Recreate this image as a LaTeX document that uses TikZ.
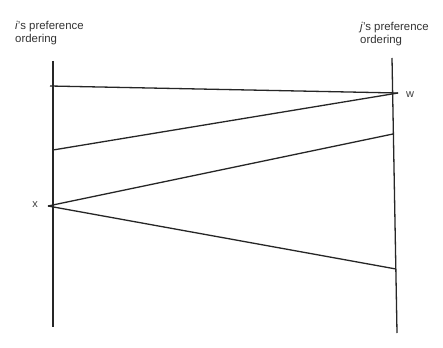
\documentclass[tikz,border=0pt]{standalone}
\usepackage{fontspec}
\setmainfont{Liberation Sans}
\begin{document}
\begin{tikzpicture}[x=1pt,y=-1pt,
  axis/.style={line width=1.3pt,draw=black!85},
  pref/.style={line width=1.3pt,draw=black!85},
  lbl/.style={inner sep=0pt,font=\fontsize{11.4}{13}\selectfont,text=black!80,align=left},
  pt/.style={inner sep=0pt,font=\fontsize{11}{13}\selectfont,text=black!75}]
\useasboundingbox[fill=white] (0,0) rectangle (443,347);
% vertical orderings
\coordinate (ltop) at (53,61);
\coordinate (lbot) at (53,327);
\coordinate (rtop) at (392,58);
\coordinate (rbot) at (397,333);
\draw[axis] (ltop) -- (lbot);
\draw[axis] (rtop) -- (rbot);
% points
\coordinate (l1) at (50,86);
\coordinate (l2) at (53,150);
\coordinate (xp) at (48,206);
\coordinate (w) at (398,93);
\coordinate (r2) at (393,134);
\coordinate (r3) at (396,269);
\draw[pref] (l1) -- (w);
\draw[pref] (l2) -- (w);
\draw[pref] (xp) -- (r2);
\draw[pref] (xp) -- (r3);
% labels
\node[lbl,anchor=north west] (ilab) at (15,21) {\textit{i}'s preference\\ordering};
\node[lbl,anchor=north west] (jlab) at (360,22) {\textit{j}'s preference\\ordering};
\node[pt,anchor=west] (wlab) at (406,95) {w};
\node[pt,anchor=east] (xlab) at (38,205) {x};
\end{tikzpicture}
\end{document}
